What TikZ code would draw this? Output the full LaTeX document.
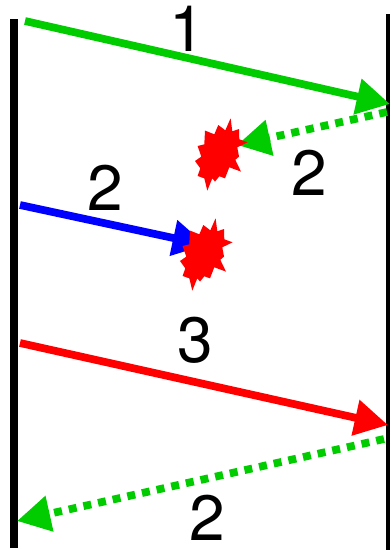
\documentclass[tikz,border=0pt]{standalone}
\usepackage{fontspec}
\setmainfont{TeX Gyre Heros}
\usepackage{xcolor}
\usetikzlibrary{arrows.meta}
\definecolor{verde}{RGB}{0,204,0}
\newcommand{\explosao}[1]{\fill[red,shift={(#1)}] (12.3,-35) -- (14,-22) -- (20.7,-24.3) -- (21,-14) -- (29.3,-11) -- (19,-6) -- (20.7,3.3) -- (17,6.5) -- (22.7,18.3) -- (11,14) -- (6.7,25) -- (1,23) -- (-3.3,28.3) -- (-6,25) -- (-11,37.3) -- (-14,25) -- (-20.7,22.7) -- (-18,15) -- (-23.3,7.7) -- (-17,3.3) -- (-20.7,-7.3) -- (-14,-9) -- (-13.3,-22.7) -- (-4,-19) -- (0,-28.3) -- (7,-23) -- cycle;}
\tikzset{
  seta/.style={line width=5.8pt,-{Triangle[length=25pt,width=26pt]}},
  pontos/.style={seta,verde,dash pattern=on 6pt off 5.25pt},
  num/.style={font=\fontsize{48}{48}\selectfont,inner sep=0pt}
}

\begin{document}
\begin{tikzpicture}[x=0.75pt,y=-0.75pt]
\useasboundingbox (0,0) rectangle (390,550);
% Linhas verticais
\coordinate (esqA) at (14,19);
\coordinate (esqB) at (14,548);
\coordinate (dirA) at (388,14);
\coordinate (dirB) at (388,550);
\draw[line width=6pt] (esqA) -- (esqB);
\draw[line width=3pt] (dirA) -- (dirB);
% Setas
\coordinate (a1) at (25,21);
\coordinate (b1) at (390,104);
\coordinate (a2) at (387,112);
\coordinate (b2) at (237,145);
\coordinate (a3) at (20,205);
\coordinate (b3) at (206,245);
\coordinate (a4) at (20,343);
\coordinate (b4) at (388,425);
\coordinate (a5) at (384,439);
\coordinate (b5) at (17,521);
\draw[seta,verde] (a1) -- (b1);
\draw[pontos] (a2) -- (b2);
\draw[seta,blue] (a3) -- (b3);
\draw[seta,red] (a4) -- (b4);
\draw[pontos] (a5) -- (b5);
% Explosoes
\explosao{218.3,153.3}
\explosao{203.3,253.3}
% Numeros
\node[num] (n1) at (187,29) {1};
\node[num] (n2) at (309.5,173) {2};
\node[num] (n3) at (105,188) {2};
\node[num] (n4) at (195,340) {3};
\node[num] (n5) at (207,518) {2};
\end{tikzpicture}
\end{document}
